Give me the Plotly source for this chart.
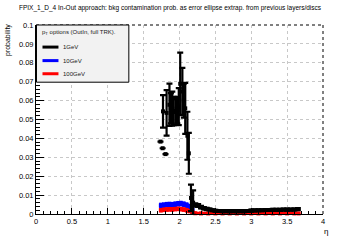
import plotly.graph_objects as go

# ---- data ----
eta_1gev = [1.735, 1.765, 1.77, 1.805, 1.82, 1.86, 1.88, 1.90, 1.92, 1.95, 1.97, 1.99,
            2.01, 2.04, 2.06, 2.08, 2.11, 2.13, 2.16, 2.19, 2.22, 2.26, 2.30, 2.34,
            2.38, 2.42, 2.46, 2.50, 2.55, 2.60, 2.65, 2.70, 2.75, 2.80, 2.85, 2.90,
            2.95, 3.00, 3.05, 3.10, 3.15, 3.20, 3.25, 3.30, 3.35, 3.40, 3.45, 3.50,
            3.55, 3.60, 3.65]
p_1gev = [0.0383, 0.0348, 0.0543, 0.0317, 0.0535, 0.0578, 0.0560, 0.0557, 0.0545, 0.0540,
          0.0550, 0.0568, 0.0689, 0.0648, 0.0600, 0.0559, 0.0414, 0.0321, 0.0085, 0.0060,
          0.0048, 0.0045, 0.0036, 0.0030, 0.0027, 0.0024, 0.0020, 0.0017, 0.0016, 0.0015,
          0.0015, 0.0015, 0.0015, 0.0015, 0.0015, 0.0015, 0.0016, 0.0018, 0.0019, 0.0020,
          0.0020, 0.0021, 0.0021, 0.0022, 0.0022, 0.0022, 0.0023, 0.0023, 0.0023, 0.0024,
          0.0026]
err_1gev = [0.0, 0.0, 0.0086, 0.0, 0.0120, 0.0112, 0.0080, 0.0090, 0.0075, 0.0068,
            0.0070, 0.0098, 0.0165, 0.0125, 0.0090, 0.0135, 0.0127, 0.0108, 0.0070, 0.0065,
            0.0009, 0.0008, 0.0007, 0.0006, 0.0006, 0.0005, 0.0005, 0.0005, 0.0005, 0.0005,
            0.0005, 0.0005, 0.0005, 0.0005, 0.0005, 0.0005, 0.0005, 0.0005, 0.0005, 0.0005,
            0.0005, 0.0005, 0.0005, 0.0005, 0.0005, 0.0005, 0.0005, 0.0005, 0.0005, 0.0005,
            0.0005]

eta_10gev = [1.74, 1.78, 1.82, 1.86, 1.90, 1.94, 1.98, 2.02, 2.06, 2.10, 2.14, 2.18]
p_10gev = [0.0045, 0.0047, 0.0049, 0.0050, 0.0049, 0.0052, 0.0054, 0.0055, 0.0052, 0.0047,
           0.0040, 0.0021]
err_10gev = [0.0015, 0.0015, 0.0015, 0.0015, 0.0015, 0.0015, 0.0015, 0.0015, 0.0015, 0.0015,
             0.0014, 0.0011]

eta_100gev = [1.74, 1.78, 1.82, 1.86, 1.90, 1.94, 1.98, 2.02, 2.06, 2.10, 2.14, 2.18, 2.22,
              2.30, 2.40, 2.50, 2.60, 2.70, 2.80, 2.90, 3.00, 3.10, 3.20, 3.30, 3.40, 3.50,
              3.60, 3.66]
p_100gev = [0.0020, 0.0022, 0.0024, 0.0025, 0.0024, 0.0026, 0.0027, 0.0026, 0.0024, 0.0020,
            0.0015, 0.0008, 0.0004, 0.0003, 0.0003, 0.0003, 0.0003, 0.0003, 0.0003, 0.0003,
            0.0003, 0.0003, 0.0003, 0.0003, 0.0003, 0.0003, 0.0003, 0.0003]
err_100gev = [0.0012, 0.0012, 0.0012, 0.0012, 0.0012, 0.0012, 0.0012, 0.0012, 0.0012, 0.0012,
              0.0011, 0.0007, 0.0005, 0.0005, 0.0005, 0.0005, 0.0005, 0.0005, 0.0005, 0.0005,
              0.0005, 0.0005, 0.0005, 0.0005, 0.0005, 0.0005, 0.0005, 0.0005]

x_ticks = [0, 0.5, 1, 1.5, 2, 2.5, 3, 3.5, 4]
x_labels = ["0", "0.5", "1", "1.5", "2", "2.5", "3", "3.5", "4"]
y_ticks = [0, 0.01, 0.02, 0.03, 0.04, 0.05, 0.06, 0.07, 0.08, 0.09, 0.1]
y_labels = ["0", "0.01", "0.02", "0.03", "0.04", "0.05", "0.06", "0.07", "0.08", "0.09", "0.1"]

title_text = "FPIX_1_D_4 In-Out approach: bkg contamination prob. as error ellipse extrap. from previous layers/discs"
legend_header = "p<sub>T</sub> options (OutIn, full TRK)."
legend_names = ["1GeV", "10GeV", "100GeV"]
colors = ["#000000", "#0000ff", "#ff0000"]

FONT = "Liberation Sans, Arial, sans-serif"

# pixel geometry helpers (360x240 canvas)
L, R, T, B = 36, 36.5, 24.5, 25.5
PW, PH = 360 - L - R, 240 - T - B


def px(xp):
    return (xp - L) / PW


def py(yp):
    return (240 - B - yp) / PH


fig = go.Figure()

fig.add_trace(go.Scatter(
    x=eta_10gev, y=p_10gev, mode="lines+markers", cliponaxis=False,
    line=dict(color=colors[1], width=3),
    marker=dict(symbol="square", size=4, color=colors[1], line=dict(width=0)),
    error_y=dict(type="data", array=err_10gev, color=colors[1], thickness=3.5, width=0),
    showlegend=False))
fig.add_trace(go.Scatter(
    x=eta_100gev, y=p_100gev, mode="lines+markers", cliponaxis=False,
    line=dict(color=colors[2], width=3.5),
    marker=dict(symbol="square", size=4, color=colors[2], line=dict(width=0)),
    error_y=dict(type="data", array=err_100gev, color=colors[2], thickness=3.5, width=0),
    showlegend=False))
fig.add_trace(go.Scatter(
    x=eta_1gev, y=p_1gev, mode="markers", cliponaxis=False,
    marker=dict(symbol="square", size=4, color=colors[0], line=dict(width=0)),
    error_y=dict(type="data", array=err_1gev, color=colors[0], thickness=2.2, width=3),
    showlegend=False))

shapes = []
# dashed top and right frame
shapes.append(dict(type="line", xref="paper", yref="paper", x0=0, x1=1, y0=1, y1=1,
                   line=dict(color="black", width=1, dash="dot")))
shapes.append(dict(type="line", xref="paper", yref="paper", x0=1, x1=1, y0=0, y1=1,
                   line=dict(color="black", width=1, dash="dot")))
# legend box
shapes.append(dict(type="rect", xref="paper", yref="paper", x0=px(36.5), x1=px(129),
                   y0=py(82), y1=py(24.5), fillcolor="#f2f2f2",
                   line=dict(color="black", width=1), layer="above"))
legend_y = [46.7, 60.3, 73.5]
annotations = []
for name, c, yy in zip(legend_names, colors, legend_y):
    shapes.append(dict(type="line", xref="paper", yref="paper", x0=px(42.5), x1=px(58.5),
                       y0=py(yy), y1=py(yy), line=dict(color=c, width=3), layer="above"))
    annotations.append(dict(text=name, xref="paper", yref="paper", x=px(61.5), y=py(yy),
                            xanchor="left", yanchor="middle", showarrow=False,
                            font=dict(family=FONT, size=6, color="#202020")))
annotations.append(dict(text=legend_header, xref="paper", yref="paper", x=px(40), y=py(32.5),
                        xanchor="left", yanchor="middle", showarrow=False,
                        font=dict(family=FONT, size=6, color="#202020")))
annotations.append(dict(text=title_text, xref="paper", yref="paper", x=px(17), y=py(7.3),
                        xanchor="left", yanchor="middle", showarrow=False,
                        font=dict(family=FONT, size=6.5, color="black")))
annotations.append(dict(text="probability", xref="paper", yref="paper", x=px(7.5), y=py(22),
                        xanchor="center", yanchor="top", textangle=-90, showarrow=False,
                        font=dict(family=FONT, size=7, color="black")))
annotations.append(dict(text="η", xref="paper", yref="paper", x=px(322), y=py(225.5),
                        xanchor="left", yanchor="top", showarrow=False,
                        font=dict(family=FONT, size=8, color="black")))

fig.update_layout(
    width=360, height=240,
    margin=dict(l=L, r=R, t=T, b=B, pad=0),
    paper_bgcolor="white", plot_bgcolor="white",
    font=dict(family=FONT, size=7.5, color="black"),
    shapes=shapes, annotations=annotations,
    xaxis=dict(range=[0, 4], tickmode="array", tickvals=x_ticks, ticktext=x_labels,
               ticks="inside", ticklen=6, tickwidth=1, tickcolor="black",
               minor=dict(dtick=0.1, ticks="inside", ticklen=3, tickcolor="black", showgrid=False),
               showline=True, linecolor="black", linewidth=1, mirror=False,
               showgrid=True, gridcolor="#c8c8c8", griddash="dot", gridwidth=1,
               zeroline=False, tickfont=dict(size=7.5)),
    yaxis=dict(range=[0, 0.1], tickmode="array", tickvals=y_ticks, ticktext=y_labels,
               ticks="inside", ticklen=8, tickwidth=1, tickcolor="black",
               minor=dict(dtick=0.002, ticks="inside", ticklen=4, tickcolor="black", showgrid=False),
               showline=True, linecolor="black", linewidth=1, mirror=False,
               showgrid=True, gridcolor="#c8c8c8", griddash="dot", gridwidth=1,
               zeroline=False, tickfont=dict(size=7.5)),
)

fig.write_html("out.html")
